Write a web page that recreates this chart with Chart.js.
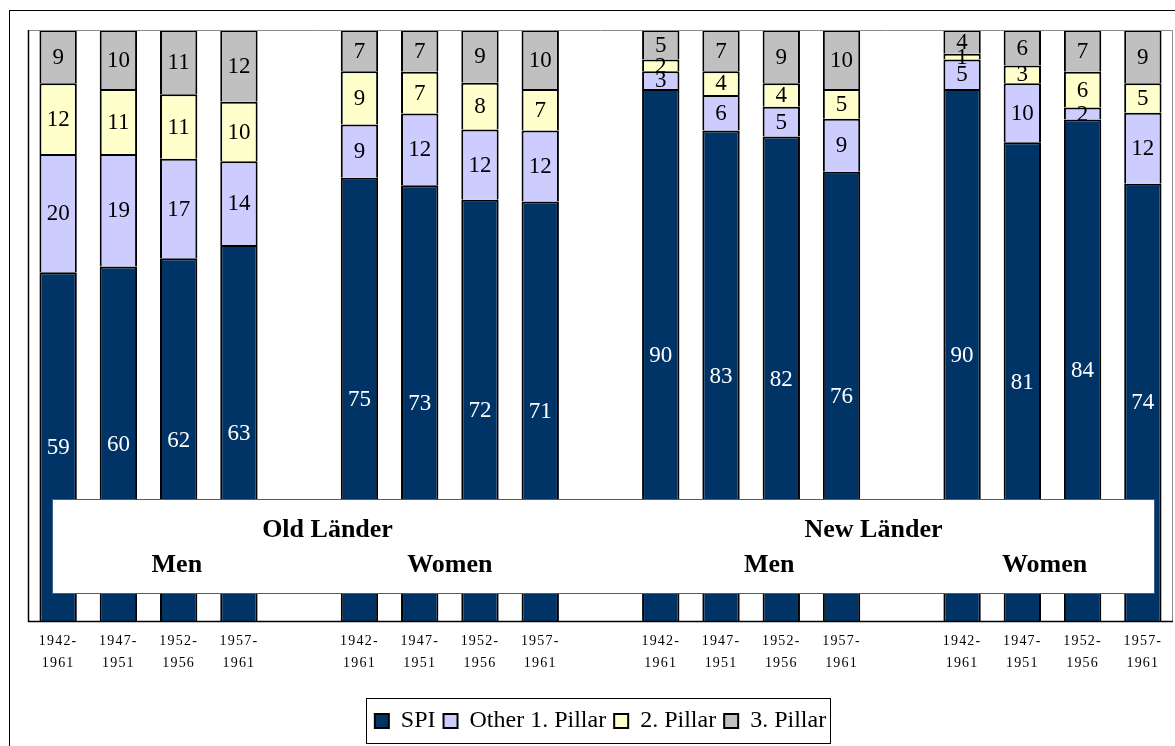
<!DOCTYPE html>
<html>
<head>
<meta charset="utf-8">
<script src="https://cdn.jsdelivr.net/npm/chart.js@4/dist/chart.umd.min.js"></script>
<style>
  html, body { margin: 0; padding: 0; background: #ffffff; }
  #wrap { width: 1175px; height: 746px; position: relative; }
  canvas { display: block; }
</style>
</head>
<body>
<div id="wrap"><canvas id="chart" width="1175" height="746"></canvas></div>
<script>
// Birth cohorts shown inside each group (two-line tick labels)
const periods = [['1942-', '1961'], ['1947-', '1951'], ['1952-', '1956'], ['1957-', '1961']];

// Shares in percent, four cohorts per group:
// Old Länder men, Old Länder women, New Länder men, New Länder women
const spi     = [59, 60, 62, 63,  75, 73, 72, 71,  90, 83, 82, 76,  90, 81, 84, 74];
const other1  = [20, 19, 17, 14,   9, 12, 12, 12,   3,  6,  5,  9,   5, 10,  2, 12];
const pillar2 = [12, 11, 11, 10,   9,  7,  8,  7,   2,  4,  4,  5,   1,  3,  6,  5];
const pillar3 = [ 9, 10, 11, 12,   7,  7,  9, 10,   5,  7,  9, 10,   4,  6,  7,  9];

const seriesNames = ['SPI', 'Other 1. Pillar', '2. Pillar', '3. Pillar'];
const regionTitles = ['Old Länder', 'New Länder'];
const sexTitles = ['Men', 'Women', 'Men', 'Women'];

// Styling
const seriesColors = ['#003366', '#CCCCFF', '#FFFFCC', '#C0C0C0'];
const valueColors = ['#FFFFFF', '#000000', '#000000', '#000000'];
const SERIF = '"Liberation Serif", "Times New Roman", serif';

// Placement of the group captions, in category-slot units / percent
const regionTitleSlots = [4.47, 13.53];
const sexTitleSlots = [1.97, 6.5, 11.8, 16.37];
const captionBox = { top: 20.6, bottom: 4.7 };
const regionTitleLevel = 15.4;
const sexTitleLevel = 9.5;

// Lay the four groups out on one category axis, with an empty slot between groups
const groupSize = periods.length;
const groupCount = spi.length / groupSize;
const categories = [];
const slotOf = [];
for (let g = 0; g < groupCount; g++) {
  for (let p = 0; p < groupSize; p++) {
    slotOf.push(categories.length);
    categories.push(periods[p]);
  }
  if (g < groupCount - 1) categories.push('');
}

const seriesValues = [spi, other1, pillar2, pillar3];
const totals = spi.map((_, i) => seriesValues.reduce((s, arr) => s + arr[i], 0));

function toSlots(arr, scaleToShare) {
  const out = new Array(categories.length).fill(null);
  arr.forEach((v, i) => {
    out[slotOf[i]] = scaleToShare ? v * 100 / totals[i] : v;
  });
  return out;
}

const datasets = seriesValues.map((arr, si) => ({
  label: seriesNames[si],
  data: toSlots(arr, true),        // each column stacked to 100 %
  rawValues: toSlots(arr, false),  // the printed values
  backgroundColor: seriesColors[si],
  borderColor: '#000000',
  borderWidth: 2,
  categoryPercentage: 1.0,
  barPercentage: 0.62
}));

// Outer frame of the figure
const framePlugin = {
  id: 'frame',
  beforeDraw(chart) {
    const ctx = chart.ctx;
    ctx.save();
    ctx.strokeStyle = '#000000';
    ctx.lineWidth = 1;
    ctx.strokeRect(9.5, 10.5, chart.width + 20, chart.height + 20);
    ctx.restore();
  }
};

// Plot-area border, value labels
const plotDecor = {
  id: 'plotDecor',
  afterDatasetsDraw(chart) {
    const ctx = chart.ctx;
    const a = chart.chartArea;
    ctx.save();
    ctx.lineWidth = 1;
    ctx.strokeStyle = '#8a8a8a';
    ctx.beginPath();
    ctx.moveTo(Math.round(a.left) + 0.5, Math.round(a.top) + 0.5);
    ctx.lineTo(Math.round(a.right) - 0.5, Math.round(a.top) + 0.5);
    ctx.lineTo(Math.round(a.right) - 0.5, Math.round(a.bottom));
    ctx.stroke();
    ctx.strokeStyle = '#000000';
    ctx.lineWidth = 1.5;
    ctx.beginPath();
    ctx.moveTo(Math.round(a.left) + 0.5, Math.round(a.top));
    ctx.lineTo(Math.round(a.left) + 0.5, Math.round(a.bottom) + 0.5);
    ctx.lineTo(Math.round(a.right), Math.round(a.bottom) + 0.5);
    ctx.stroke();

    ctx.font = '23px ' + SERIF;
    ctx.textAlign = 'center';
    ctx.textBaseline = 'middle';
    chart.data.datasets.forEach((ds, di) => {
      const meta = chart.getDatasetMeta(di);
      meta.data.forEach((bar, i) => {
        const raw = ds.rawValues[i];
        if (raw === null || raw === undefined) return;
        const { x, y, base } = bar.getProps(['x', 'y', 'base'], true);
        ctx.fillStyle = valueColors[di];
        ctx.fillText(String(raw), x, (y + base) / 2 + 1);
      });
    });
    ctx.restore();
  }
};

// Caption box with region / sex titles, and the legend frame
const captions = {
  id: 'captions',
  afterDraw(chart) {
    const ctx = chart.ctx;
    const a = chart.chartArea;
    const xs = chart.scales.x;
    const ys = chart.scales.y;
    ctx.save();
    const top = Math.round(ys.getPixelForValue(captionBox.top)) + 0.5;
    const bottom = Math.round(ys.getPixelForValue(captionBox.bottom)) + 0.5;
    const left = Math.round(a.left + 24) + 0.5;
    const right = Math.round(a.right - 19) + 0.5;
    ctx.fillStyle = '#ffffff';
    ctx.fillRect(left, top, right - left, bottom - top);
    ctx.strokeStyle = '#3c5f8f';
    ctx.lineWidth = 1;
    ctx.strokeRect(left, top, right - left, bottom - top);

    ctx.fillStyle = '#000000';
    ctx.font = 'bold 26px ' + SERIF;
    ctx.textAlign = 'center';
    ctx.textBaseline = 'middle';
    regionTitles.forEach((t, i) => {
      ctx.fillText(t, xs.getPixelForValue(regionTitleSlots[i]), ys.getPixelForValue(regionTitleLevel));
    });
    sexTitles.forEach((t, i) => {
      ctx.fillText(t, xs.getPixelForValue(sexTitleSlots[i]), ys.getPixelForValue(sexTitleLevel));
    });

    // frame around the legend
    const hb = chart.legend.legendHitBoxes;
    if (hb && hb.length) {
      const l = Math.min(...hb.map(h => h.left)) - 9;
      const r = Math.max(...hb.map(h => h.left + h.width)) + 4;
      const cy = hb[0].top + hb[0].height / 2;
      ctx.strokeStyle = '#000000';
      ctx.lineWidth = 1;
      ctx.strokeRect(Math.round(l) + 0.5, Math.round(cy - 23) + 0.5, Math.round(r - l), 45);
    }
    ctx.restore();
  }
};

// Slightly spaced digits on the cohort tick labels
const tickSpacing = {
  id: 'tickSpacing',
  afterLayout(chart) {
    const s = chart.scales.x;
    if (s && !s.__spaced) {
      const orig = s.drawLabels.bind(s);
      s.drawLabels = function (area) {
        const ctx = chart.ctx;
        ctx.save();
        ctx.letterSpacing = '1.2px';
        orig(area);
        ctx.restore();
      };
      s.__spaced = true;
    }
  }
};

new Chart(document.getElementById('chart'), {
  type: 'bar',
  data: { labels: categories, datasets },
  options: {
    responsive: false,
    animation: false,
    devicePixelRatio: 1,
    layout: { padding: { left: 28, right: 2, top: 30, bottom: 3 } },
    scales: {
      x: {
        stacked: true,
        grid: { display: false, drawTicks: false },
        border: { display: false },
        ticks: {
          autoSkip: false,
          maxRotation: 0,
          minRotation: 0,
          padding: 9,
          color: '#000000',
          font: { family: SERIF, size: 14, lineHeight: '22px' }
        },
        afterFit(scale) { scale.height = 80; }
      },
      y: { stacked: true, display: false, min: 0, max: 100 }
    },
    plugins: {
      legend: {
        position: 'bottom',
        labels: {
          color: '#000000',
          font: { family: SERIF, size: 24 },
          boxWidth: 14,
          boxHeight: 14,
          padding: 8
        }
      },
      tooltip: { enabled: false }
    }
  },
  plugins: [framePlugin, plotDecor, captions, tickSpacing]
});
</script>
</body>
</html>
